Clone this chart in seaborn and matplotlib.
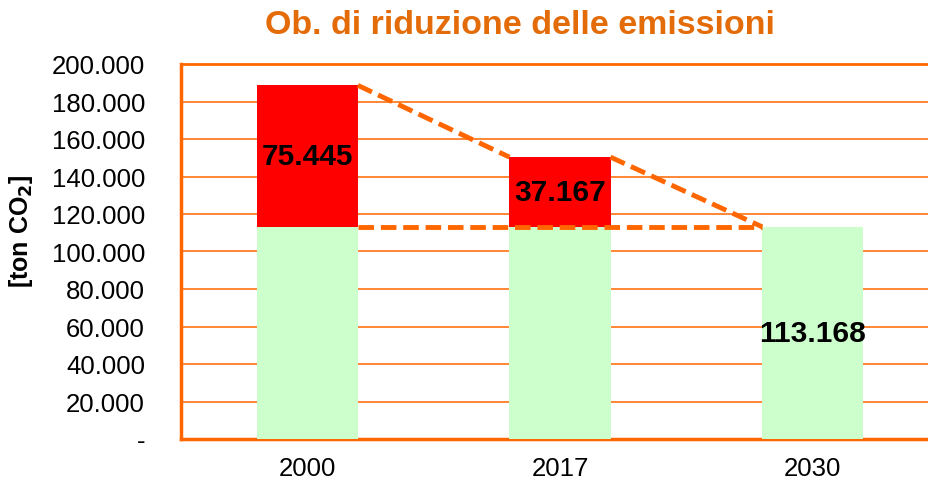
import numpy as np
import pandas as pd
import matplotlib
matplotlib.use("Agg")
import matplotlib.pyplot as plt
from matplotlib.ticker import FuncFormatter, MultipleLocator, FixedLocator
import seaborn as sns

# data
years = ["2000", "2017", "2030"]
target = [113168, 113168, 113168]      # emissions target (green base)
reduction = [75445, 37167, 0]          # reduction still needed (red)
y_ticks = [0, 20000, 40000, 60000, 80000, 100000, 120000, 140000, 160000, 180000, 200000]

ORANGE = "#FF6600"
RED = "#FF0000"
GREEN = "#CCFFCC"
TITLE_COL = "#E36C09"
BAR_W = 0.4

sns.set_style("white")
plt.rcParams["font.family"] = ["Liberation Sans", "DejaVu Sans"]
plt.rcParams["text.color"] = "black"
plt.rcParams["axes.labelcolor"] = "black"

df = pd.DataFrame({"year": years, "target": target, "reduction": reduction})
df["total"] = df["target"] + df["reduction"]


def it_fmt(v):
    return f"{int(round(v)):,}".replace(",", ".")


fig = plt.figure(figsize=(9.29, 4.81), dpi=100)
ax = fig.add_axes([181 / 929, 41 / 481, 758 / 929, 375 / 481])

sns.barplot(data=df, x="year", y="total", color=RED, width=BAR_W,
            saturation=1, ax=ax, zorder=3)
sns.barplot(data=df, x="year", y="target", color=GREEN, width=BAR_W,
            saturation=1, ax=ax, zorder=3)
for p in ax.patches:
    p.set_edgecolor("none")
    p.set_linewidth(0)

# dashed guide lines between bars
x = np.arange(len(years))
tot = df["total"].to_numpy()
dash = dict(color=ORANGE, lw=3.5, dashes=(3.2, 1.4), zorder=4, solid_capstyle="butt")
for i in range(len(years) - 1):
    ax.plot([x[i] + BAR_W / 2, x[i + 1] - BAR_W / 2], [tot[i], tot[i + 1]], **dash)
ax.plot([x[0] + BAR_W / 2, x[-1] - BAR_W / 2], [target[0], target[-1]], **dash)

# value labels
for i in range(len(years)):
    if reduction[i] > 0:
        ax.text(x[i], target[i] + reduction[i] / 2, it_fmt(reduction[i]),
                ha="center", va="center", fontsize=21.5, fontweight="bold",
                color="black", zorder=5)
    else:
        ax.text(x[i], target[i] / 2, it_fmt(target[i]),
                ha="center", va="center", fontsize=21.5, fontweight="bold",
                color="black", zorder=5)

ax.set_xlim(-0.5, 2.5)
ax.set_ylim(0, 200000)
ax.yaxis.set_major_locator(FixedLocator(y_ticks))
ax.yaxis.set_major_formatter(FuncFormatter(lambda v, _: "-" if v == 0 else it_fmt(v)))
ax.grid(axis="y", color=ORANGE, lw=1.1, zorder=0)
ax.set_axisbelow(True)

ax.spines["right"].set_visible(False)
ax.spines["top"].set_color(ORANGE)
ax.spines["top"].set_linewidth(2)
ax.spines["left"].set_color(ORANGE)
ax.spines["left"].set_linewidth(2.5)
ax.spines["bottom"].set_color(ORANGE)
ax.spines["bottom"].set_linewidth(2.5)

ax.tick_params(axis="y", which="major", length=6, width=1.1, color=ORANGE,
               labelsize=18.5, pad=20, labelcolor="black")
ax.tick_params(axis="x", which="major", length=0, labelsize=18.5, pad=12,
               labelcolor="black")
ax.xaxis.set_minor_locator(MultipleLocator(1, offset=0.5))
ax.tick_params(axis="x", which="minor", length=8, width=1.1, color=ORANGE, direction="out")

ax.set_xlabel("")
ax.set_ylabel(r"[ton CO$_\mathbf{2}$]", fontsize=18, fontweight="bold")
ax.yaxis.set_label_coords(-0.193, 0.557)

fig.text(520 / 929, 1 - 26 / 481, "Ob. di riduzione delle emissioni",
         ha="center", va="center", fontsize=24.5, fontweight="bold", color=TITLE_COL)

fig.savefig("out.png", dpi=100)
